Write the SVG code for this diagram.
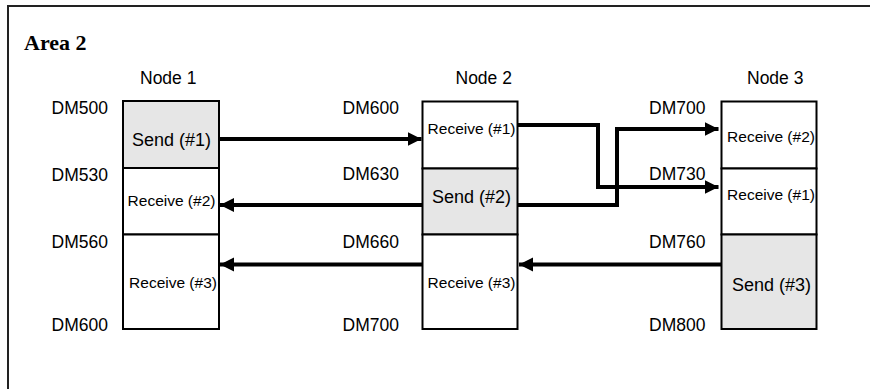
<svg xmlns="http://www.w3.org/2000/svg" width="870" height="389" viewBox="0 0 870 389">
<defs>
<marker id="ah" markerUnits="userSpaceOnUse" markerWidth="15" markerHeight="15" refX="14" refY="7" orient="auto" viewBox="0 0 15 15">
<path d="M0,0 L14,7 L0,14 Z" fill="#000"/>
</marker>
<style>
.cell{stroke:#000;stroke-width:2;fill:#fff}
.send{fill:#e6e6e6}
.lbl{font-family:"Liberation Sans",Arial,sans-serif;font-size:17.5px;fill:#000}
.dm{text-anchor:end}
.rcv{font-family:"Liberation Sans",Arial,sans-serif;font-size:15.5px;text-anchor:middle;fill:#000}
.snd{font-family:"Liberation Sans",Arial,sans-serif;font-size:18px;text-anchor:middle;fill:#000}
.conn{fill:none;stroke:#000;stroke-width:4}
</style>
</defs>
<rect width="870" height="389" fill="#fff"/>
<path d="M8,389 V6 H870" fill="none" stroke="#222" stroke-width="2"/>
<text x="24" y="50" font-family="'Liberation Serif','Times New Roman',serif" font-weight="bold" font-size="22">Area 2</text>

<g id="node1">
<text class="lbl" x="140" y="84">Node 1</text>
<rect class="cell send" x="123" y="101" width="96" height="67"/>
<rect class="cell" x="123" y="168" width="96" height="66.5"/>
<rect class="cell" x="123" y="234.5" width="96" height="94.5"/>
<text class="snd" x="171.5" y="146">Send (#1)</text>
<text class="rcv" x="171.5" y="205.5">Receive (#2)</text>
<text class="rcv" x="173" y="288">Receive (#3)</text>
<text class="lbl dm" x="108" y="114">DM500</text>
<text class="lbl dm" x="108" y="181">DM530</text>
<text class="lbl dm" x="108" y="247.5">DM560</text>
<text class="lbl dm" x="108" y="331">DM600</text>
</g>

<g id="node2">
<text class="lbl" x="455.5" y="84">Node 2</text>
<rect class="cell" x="422.5" y="101.5" width="95" height="67"/>
<rect class="cell send" x="422.5" y="168.5" width="95" height="66"/>
<rect class="cell" x="422.5" y="234.5" width="95" height="94.5"/>
<text class="rcv" x="471.5" y="134">Receive (#1)</text>
<text class="snd" x="471.5" y="203">Send (#2)</text>
<text class="rcv" x="471.5" y="288">Receive (#3)</text>
<text class="lbl dm" x="399" y="114">DM600</text>
<text class="lbl dm" x="399" y="180">DM630</text>
<text class="lbl dm" x="399" y="247.5">DM660</text>
<text class="lbl dm" x="399" y="331">DM700</text>
</g>

<g id="node3">
<text class="lbl" x="747" y="84">Node 3</text>
<rect class="cell" x="721.5" y="101.5" width="95" height="67"/>
<rect class="cell" x="721.5" y="168.5" width="95" height="66"/>
<rect class="cell send" x="721.5" y="234.5" width="95" height="94.5"/>
<text class="rcv" x="771" y="142">Receive (#2)</text>
<text class="rcv" x="771" y="200">Receive (#1)</text>
<text class="snd" x="771.5" y="291">Send (#3)</text>
<text class="lbl dm" x="705.5" y="114">DM700</text>
<text class="lbl dm" x="705.5" y="180">DM730</text>
<text class="lbl dm" x="705.5" y="247.5">DM760</text>
<text class="lbl dm" x="705.5" y="331">DM800</text>
</g>

<g id="connectors">
<path class="conn" d="M219,139 H421.5" marker-end="url(#ah)"/>
<path class="conn" d="M422.5,205 H220" marker-end="url(#ah)"/>
<path class="conn" d="M422.5,264.5 H220" marker-end="url(#ah)"/>
<path class="conn" d="M721.5,264.5 H519" marker-end="url(#ah)"/>
<path class="conn" d="M517.5,125 H598 V187 H718.5" marker-end="url(#ah)"/>
<path class="conn" d="M517.5,205 H617 V129 H718.5" marker-end="url(#ah)"/>
</g>
</svg>
